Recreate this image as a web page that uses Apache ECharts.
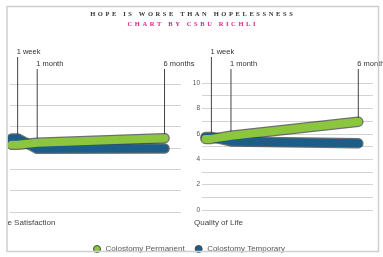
<html>
<head>
<meta charset="utf-8">
<script src="https://cdn.jsdelivr.net/npm/echarts@6/dist/echarts.min.js"></script>
</head>
<body style="margin:0">
<div id="main" style="width:383px;height:257px;"></div>
<script>
    // data (x in weeks after surgery)
    var weeks = [0, 1, 4.33, 26];
    var seriesNames = ['Colostomy Permanent', 'Colostomy Temporary'];
    var satPermanent = [3.15, 3.15, 3.25, 3.46];
    var satTemporary = [3.45, 3.45, 2.96, 2.98];
    var qolPermanent = [5.6, 5.6, 5.85, 6.95];
    var qolTemporary = [5.75, 5.75, 5.4, 5.25];
    var markerWeeks = [1, 4.33, 26];
    var markerNames = ['1 week', '1 month', '6 months'];
    var panelNames = ['Life Satisfaction', 'Quality of Life'];

    var colors = ['#8cc63f', '#1b5e8a'];

    var panels = [
        { grid: { left: 10, top: 84, width: 171, height: 128 }, xmin: -0.3, xmax: 28.8, ymax: 6,
          values: [satPermanent, satTemporary], nameLeft: -1 },
        { grid: { left: 202, top: 83, width: 171, height: 127 }, xmin: -0.6, xmax: 28.5, ymax: 10,
          values: [qolPermanent, qolTemporary], nameLeft: 194 }
    ];
    var markerTopPx = [57, 69, 69];

    var chartDom = document.getElementById('main');
    var myChart = echarts.init(chartDom);

    function pxToVal(p, px) {
        return (p.grid.top + p.grid.height - px) / p.grid.height * p.ymax;
    }

    var spaced = function (s) { return s.split('').join('\u2009\u2009'); };

    var series = [];
    panels.forEach(function (p, i) {
        // vertical marker lines with their labels
        markerWeeks.forEach(function (w, k) {
            var j = weeks.indexOf(w);
            var bottom = Math.max(p.values[0][j], p.values[1][j]);
            series.push({
                type: 'line', xAxisIndex: i, yAxisIndex: i, clip: false, silent: true,
                symbol: 'circle', symbolSize: 0, showSymbol: true,
                lineStyle: { color: '#444', width: 1 }, itemStyle: { color: '#444' },
                z: 1,
                data: [[w, bottom], {
                    value: [w, pxToVal(p, markerTopPx[k])],
                    label: { show: true, formatter: markerNames[k], position: 'top', align: 'left',
                             distance: 1, offset: [-1, 0], fontSize: 7.5, color: '#333' }
                }]
            });
        });
        // blue first, green on top
        [1, 0].forEach(function (s) {
            var d = weeks.map(function (w, j) { return [w, p.values[s][j]]; });
            series.push({
                type: 'line', xAxisIndex: i, yAxisIndex: i, silent: true, symbol: 'none', z: 2,
                lineStyle: { width: 10.5, color: 'rgba(50,50,50,0.7)', cap: 'round', join: 'round' },
                data: d
            });
            series.push({
                type: 'line', name: seriesNames[s], xAxisIndex: i, yAxisIndex: i, symbol: 'none', z: 3,
                itemStyle: { color: colors[s] },
                lineStyle: { width: 8, color: colors[s], cap: 'round', join: 'round' },
                data: d
            });
        });
    });

    var gridLine = { lineStyle: { color: '#d3d3d3', width: 1 } };

    var option = {
        animation: false,
        title: [
            { text: spaced('HOPE IS WORSE THAN HOPELESSNESS'), left: 'center', top: 10.5, padding: 0,
              textStyle: { fontFamily: 'Liberation Serif', fontWeight: 'bold', fontSize: 6.5, color: '#333' } },
            { text: spaced('CHART BY CSBU RICHLI'), left: 'center', top: 20.5, padding: 0,
              textStyle: { fontFamily: 'Liberation Serif', fontWeight: 'bold', fontSize: 6.5, color: '#e4208b' } },
            { text: panelNames[0], left: panels[0].nameLeft, top: 219, padding: 0,
              textStyle: { fontFamily: 'Liberation Sans', fontWeight: 'normal', fontSize: 8, color: '#444' } },
            { text: panelNames[1], left: panels[1].nameLeft, top: 219, padding: 0,
              textStyle: { fontFamily: 'Liberation Sans', fontWeight: 'normal', fontSize: 8, color: '#444' } }
        ],
        legend: {
            left: 93, top: 245, padding: 0, itemWidth: 7, itemHeight: 7, itemGap: 10, icon: 'circle',
            textStyle: { fontFamily: 'Liberation Sans', fontSize: 8, color: '#555' },
            data: seriesNames.map(function (n) { return { name: n, itemStyle: { borderColor: '#444', borderWidth: 1 } }; })
        },
        grid: panels.map(function (p) { return p.grid; }),
        xAxis: panels.map(function (p, i) {
            return { type: 'value', gridIndex: i, min: p.xmin, max: p.xmax, show: false };
        }),
        yAxis: [
            { type: 'value', gridIndex: 0, min: 0, max: 6, interval: 1,
              axisLabel: { show: false }, axisLine: { show: false }, axisTick: { show: false }, splitLine: gridLine },
            { type: 'value', gridIndex: 1, min: 0, max: 10, interval: 2,
              axisLabel: { fontFamily: 'Liberation Sans', fontSize: 6.5, color: '#555', margin: 2 },
              axisLine: { show: false }, axisTick: { show: false }, splitLine: gridLine,
              minorTick: { show: false, splitNumber: 2 }, minorSplitLine: { show: true, lineStyle: gridLine.lineStyle } }
        ],
        series: series,
        graphic: [
            { type: 'rect', shape: { x: 0, y: 0, width: 7.5, height: 257 }, style: { fill: '#fff' }, z: 100, silent: true },
            { type: 'rect', shape: { x: 7, y: 6.5, width: 371.5, height: 245 },
              style: { fill: 'none', stroke: '#cfcfcf', lineWidth: 1.5 }, z: 101, silent: true }
        ]
    };

    option && myChart.setOption(option);
</script>
</body>
</html>
